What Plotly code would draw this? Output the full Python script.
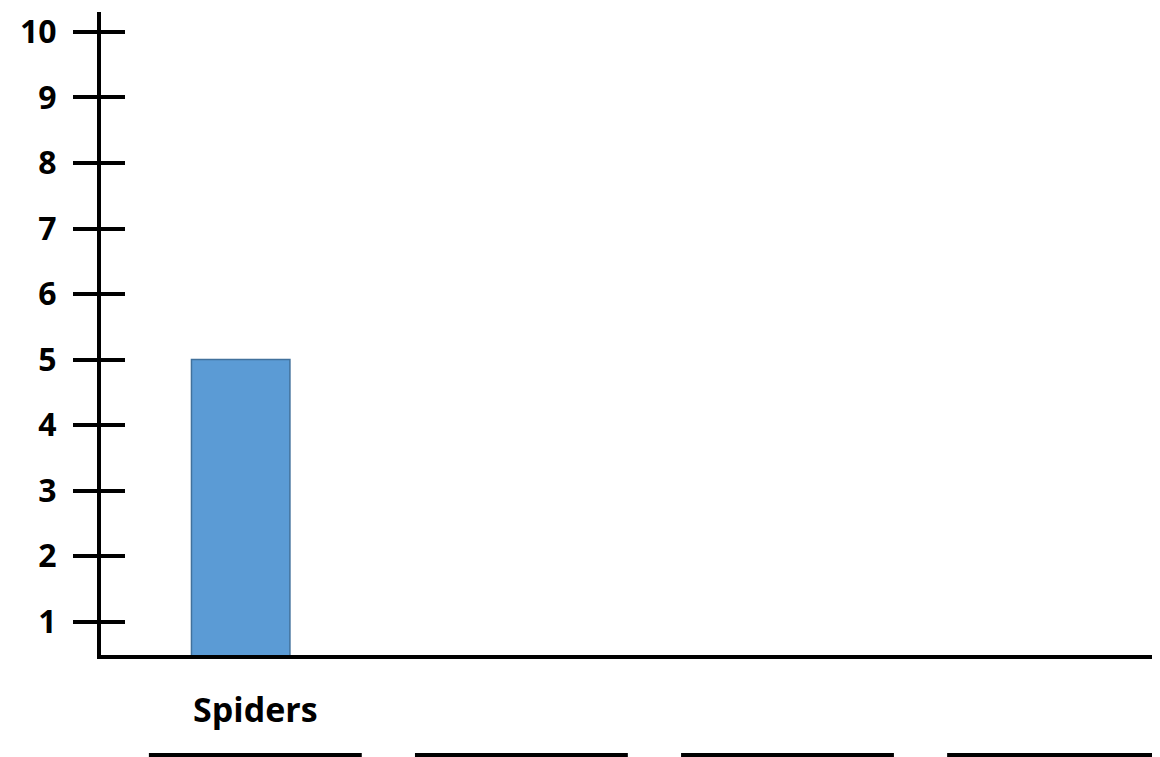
import plotly.graph_objects as go

# Data
categories = ["Spiders", "cat2", "cat3", "cat4"]
category_labels = ["Spiders", "", "", ""]
counts = [5, None, None, None]
y_ticks = [1, 2, 3, 4, 5, 6, 7, 8, 9, 10]
y_tick_labels = [str(v) for v in y_ticks]

XFONT = dict(family="Open Sans", size=34, color="black", weight="bold")
YFONT = dict(family="Open Sans", size=32, color="black", weight="bold")

fig = go.Figure()
fig.add_trace(go.Bar(
    x=categories, y=counts,
    width=0.37, offset=-0.24,
    marker=dict(color="#5B9BD5", line=dict(color="#41719C", width=1.5)),
    showlegend=False, hoverinfo="skip",
))
# invisible helper trace so the second (crossing-tick) axis is drawn
fig.add_trace(go.Scatter(
    x=categories, y=[None] * len(categories), yaxis="y2",
    mode="markers", showlegend=False, hoverinfo="skip",
))

# answer blanks under each category
for i, _ in enumerate(categories):
    fig.add_shape(type="line", xref="x", yref="paper",
                  x0=i - 0.4, x1=i + 0.4, y0=-0.1555, y1=-0.1555,
                  line=dict(color="black", width=4))

yr = [0.49, 10.305]
fig.update_layout(
    width=1152, height=749,
    margin=dict(l=93, r=0, t=4, b=102, autoexpand=False),
    paper_bgcolor="white", plot_bgcolor="white",
    xaxis=dict(
        type="category", categoryorder="array", categoryarray=categories,
        tickvals=categories, ticktext=category_labels,
        range=[-0.58, 3.4], automargin=False,
        showline=True, linecolor="black", linewidth=4,
        ticks="", showgrid=False, zeroline=False,
        tickfont=XFONT, ticklabelstandoff=22,
    ),
    yaxis=dict(
        range=yr, tickvals=y_ticks, ticktext=y_tick_labels,
        automargin=False,
        showline=True, linecolor="black", linewidth=4,
        ticks="outside", ticklen=24, tickwidth=4, tickcolor="black",
        showgrid=False, zeroline=False,
        tickfont=YFONT, ticklabelstandoff=10, ticklabeloverflow="allow",
    ),
    yaxis2=dict(
        overlaying="y", side="left", anchor="x", automargin=False,
        range=yr, tickvals=y_ticks, showticklabels=False,
        ticks="inside", ticklen=24, tickwidth=4, tickcolor="black",
        showline=False, showgrid=False, zeroline=False,
    ),
)

fig.write_html("out.html")
